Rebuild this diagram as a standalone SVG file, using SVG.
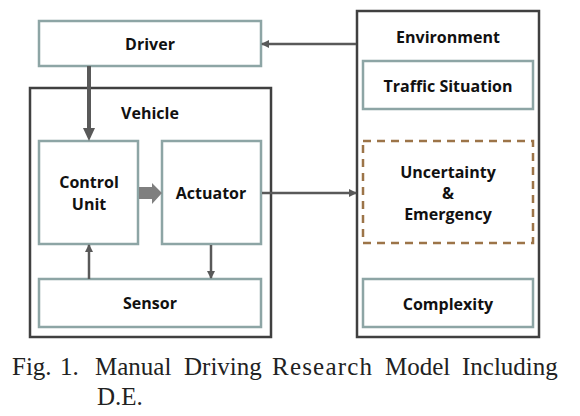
<svg xmlns="http://www.w3.org/2000/svg" width="580" height="416" viewBox="0 0 580 416">
<style>
.box{fill:#fff;stroke:#8DA5A5;stroke-width:2.5}
.outer{fill:#fff;stroke:#404040;stroke-width:2.5}
.dash{fill:#fff;stroke:#9C7448;stroke-width:2.5;stroke-dasharray:8,6}
.lbl{font-family:"Open Sans","Noto Sans",sans-serif;font-weight:bold;font-size:16px;fill:#111;text-anchor:middle}
.cap{font-family:"Liberation Serif","DejaVu Serif",serif;font-size:25px;fill:#222}
.ln{stroke:#595959;stroke-width:2.5;fill:none}
</style>
<defs>
<marker id="ah" markerWidth="8" markerHeight="8" refX="7" refY="4" orient="auto" markerUnits="userSpaceOnUse">
<path d="M0,0 L8,4 L0,8 Z" fill="#595959"/>
</marker>
</defs>
<g id="environment">
<rect class="outer" x="357" y="11" width="182" height="326"/>
<text class="lbl" x="448" y="43">Environment</text>
</g>
<g id="vehicle">
<rect class="outer" x="30" y="88" width="241" height="249"/>
<text class="lbl" x="150" y="119">Vehicle</text>
</g>
<g id="driver">
<rect class="box" x="39" y="21" width="222" height="45"/>
<text class="lbl" x="150" y="50">Driver</text>
</g>
<g id="control-unit">
<rect class="box" x="39" y="141" width="99" height="103"/>
<text class="lbl" x="89" y="188">Control</text>
<text class="lbl" x="89" y="210">Unit</text>
</g>
<g id="actuator">
<rect class="box" x="162" y="141" width="99" height="103"/>
<text class="lbl" x="211" y="199">Actuator</text>
</g>
<g id="sensor">
<rect class="box" x="39" y="279" width="222" height="48"/>
<text class="lbl" x="150" y="309">Sensor</text>
</g>
<g id="traffic-situation">
<rect class="box" x="363" y="61" width="170" height="48"/>
<text class="lbl" x="448" y="92">Traffic Situation</text>
</g>
<g id="uncertainty-emergency">
<rect class="dash" x="363" y="141" width="170" height="102"/>
<text class="lbl" x="448" y="178">Uncertainty</text>
<text class="lbl" x="448" y="199">&amp;</text>
<text class="lbl" x="448" y="220">Emergency</text>
</g>
<g id="complexity">
<rect class="box" x="363" y="279" width="170" height="48"/>
<text class="lbl" x="448" y="310">Complexity</text>
</g>
<g id="connectors">
<line x1="89" y1="66" x2="89" y2="129" stroke="#595959" stroke-width="4"/>
<path d="M83,128 L95,128 L89,141 Z" fill="#595959"/>
<line class="ln" x1="356" y1="44" x2="262" y2="44" marker-end="url(#ah)"/>
<line class="ln" x1="262" y1="193" x2="356" y2="193" marker-end="url(#ah)"/>
<line class="ln" x1="89" y1="279" x2="89" y2="245" marker-end="url(#ah)"/>
<line class="ln" x1="211" y1="245" x2="211" y2="278" marker-end="url(#ah)"/>
<path d="M139,187 L152,187 L152,183 L162,193 L152,204 L152,199 L139,199 Z" fill="#7F7F7F"/>
</g>
<g id="caption">
<text class="cap" y="375"><tspan x="12">Fig.</tspan><tspan x="60">1.</tspan><tspan x="95">Manual</tspan><tspan x="184">Driving</tspan><tspan x="272" textLength="100">Research</tspan><tspan x="385">Model</tspan><tspan x="462">Including</tspan></text>
<text class="cap" x="97" y="405">D.E.</text>
</g>
</svg>
